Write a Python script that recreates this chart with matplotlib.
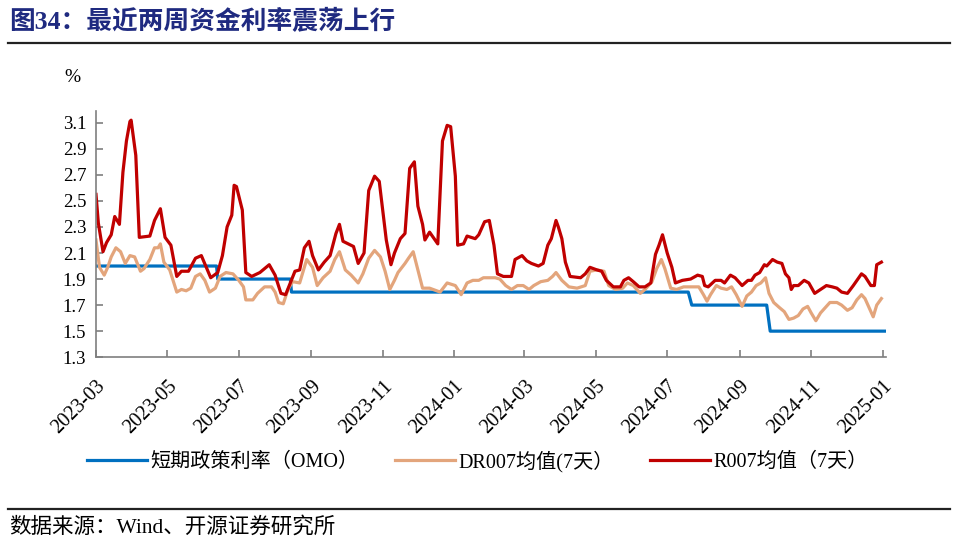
import matplotlib
matplotlib.use("Agg")
import matplotlib.pyplot as plt
import matplotlib.dates as mdates
import pandas as pd

plt.rcParams['font.family'] = ['Liberation Serif', 'Noto Sans CJK SC']

# OMO 7-day reverse repo rate (policy rate)
omo_dates = ['2023-03-01', '2023-06-12', '2023-06-13', '2023-08-14', '2023-08-15',
             '2024-07-19', '2024-07-22', '2024-09-24', '2024-09-27', '2025-01-04']
omo_vals = [2.0, 2.0, 1.9, 1.9, 1.8, 1.8, 1.7, 1.7, 1.5, 1.5]

# R007, 7-day average
r_dates = ['2023-03-01', '2023-03-03', '2023-03-07', '2023-03-10', '2023-03-14', '2023-03-17',
           '2023-03-21', '2023-03-24', '2023-03-27', '2023-03-30', '2023-03-31', '2023-04-04',
           '2023-04-07', '2023-04-16', '2023-04-20', '2023-04-25', '2023-04-29', '2023-05-04',
           '2023-05-09', '2023-05-13', '2023-05-19', '2023-05-25', '2023-05-30', '2023-06-07',
           '2023-06-13', '2023-06-17', '2023-06-21', '2023-06-25', '2023-06-27', '2023-06-29',
           '2023-07-04', '2023-07-07', '2023-07-12', '2023-07-19', '2023-07-27', '2023-08-01',
           '2023-08-06', '2023-08-10', '2023-08-14', '2023-08-18', '2023-08-22', '2023-08-26',
           '2023-08-30', '2023-09-02', '2023-09-07', '2023-09-12', '2023-09-17', '2023-09-22',
           '2023-09-25', '2023-09-28', '2023-10-07', '2023-10-11', '2023-10-16', '2023-10-20',
           '2023-10-25', '2023-10-29', '2023-11-04', '2023-11-08', '2023-11-11', '2023-11-16',
           '2023-11-20', '2023-11-24', '2023-11-28', '2023-12-01', '2023-12-05', '2023-12-07',
           '2023-12-11', '2023-12-18', '2023-12-22', '2023-12-26', '2023-12-29', '2024-01-02',
           '2024-01-04', '2024-01-09', '2024-01-12', '2024-01-19', '2024-01-22', '2024-01-27',
           '2024-01-31', '2024-02-04', '2024-02-07', '2024-02-12', '2024-02-19', '2024-02-22',
           '2024-02-28', '2024-03-03', '2024-03-07', '2024-03-13', '2024-03-17', '2024-03-21',
           '2024-03-24', '2024-03-28', '2024-03-30', '2024-04-02', '2024-04-05', '2024-04-09',
           '2024-04-18', '2024-04-22', '2024-04-26', '2024-05-02', '2024-05-06', '2024-05-10',
           '2024-05-16', '2024-05-22', '2024-05-25', '2024-05-29', '2024-06-02', '2024-06-07',
           '2024-06-12', '2024-06-17', '2024-06-21', '2024-06-24', '2024-06-27', '2024-06-29',
           '2024-07-01', '2024-07-05', '2024-07-08', '2024-07-14', '2024-07-21', '2024-07-27',
           '2024-07-31', '2024-08-02', '2024-08-05', '2024-08-11', '2024-08-16', '2024-08-19',
           '2024-08-24', '2024-08-28', '2024-09-03', '2024-09-08', '2024-09-11', '2024-09-14',
           '2024-09-18', '2024-09-22', '2024-09-24', '2024-09-29', '2024-10-03', '2024-10-07',
           '2024-10-10', '2024-10-13', '2024-10-15', '2024-10-17', '2024-10-21', '2024-10-26',
           '2024-10-30', '2024-11-04', '2024-11-09', '2024-11-14', '2024-11-19', '2024-11-23',
           '2024-11-27', '2024-12-02', '2024-12-07', '2024-12-14', '2024-12-17', '2024-12-22',
           '2024-12-25', '2024-12-27', '2024-12-31']
r_vals = [2.55, 2.33, 2.11, 2.18, 2.24, 2.38,
          2.32, 2.72, 2.96, 3.11, 3.12, 2.85,
          2.22, 2.23, 2.35, 2.44, 2.22, 2.16,
          1.92, 1.96, 1.96, 2.06, 2.08, 1.91,
          1.95, 2.08, 2.30, 2.39, 2.62, 2.61,
          2.43, 1.95, 1.92, 1.95, 2.01, 1.93,
          1.79, 1.78, 1.87, 1.96, 1.97, 2.14,
          2.19, 2.08, 1.97, 2.03, 2.08, 2.25,
          2.32, 2.19, 2.15, 2.02, 2.10, 2.58,
          2.69, 2.65, 2.20, 2.01, 2.10, 2.21,
          2.25, 2.75, 2.80, 2.46, 2.32, 2.20,
          2.26, 2.17, 2.96, 3.08, 3.07, 2.69,
          2.16, 2.17, 2.23, 2.21, 2.24, 2.34,
          2.35, 2.16, 1.94, 1.92, 1.92, 2.05,
          2.08, 2.04, 2.02, 2.00, 2.02, 2.16,
          2.21, 2.35, 2.30, 2.21, 2.03, 1.92,
          1.91, 1.94, 1.99, 1.97, 1.96, 1.89,
          1.84, 1.84, 1.89, 1.91, 1.88, 1.84,
          1.84, 1.87, 2.09, 2.16, 2.24, 2.17,
          2.10, 1.99, 1.87, 1.89, 1.90, 1.93,
          1.92, 1.85, 1.84, 1.89, 1.89, 1.87,
          1.93, 1.91, 1.85, 1.89, 1.89, 1.93,
          1.95, 2.01, 2.00, 2.05, 2.03, 2.02,
          1.94, 1.91, 1.82, 1.85, 1.85, 1.89,
          1.87, 1.79, 1.82, 1.85, 1.84, 1.83,
          1.80, 1.79, 1.85, 1.94, 1.92, 1.85,
          1.85, 2.01, 2.03]

# DR007, 7-day average
dr_dates = ['2023-03-01', '2023-03-04', '2023-03-08', '2023-03-11', '2023-03-14', '2023-03-18',
            '2023-03-22', '2023-03-26', '2023-03-30', '2023-04-03', '2023-04-08', '2023-04-11',
            '2023-04-16', '2023-04-20', '2023-04-23', '2023-04-25', '2023-04-28', '2023-05-03',
            '2023-05-09', '2023-05-13', '2023-05-17', '2023-05-21', '2023-05-25', '2023-05-29',
            '2023-06-02', '2023-06-06', '2023-06-11', '2023-06-15', '2023-06-20', '2023-06-26',
            '2023-07-01', '2023-07-05', '2023-07-07', '2023-07-13', '2023-07-17', '2023-07-23',
            '2023-07-29', '2023-08-01', '2023-08-04', '2023-08-08', '2023-08-12', '2023-08-16',
            '2023-08-22', '2023-08-28', '2023-09-02', '2023-09-06', '2023-09-11', '2023-09-17',
            '2023-09-21', '2023-09-25', '2023-09-30', '2023-10-05', '2023-10-11', '2023-10-15',
            '2023-10-20', '2023-10-25', '2023-10-30', '2023-11-03', '2023-11-07', '2023-11-11',
            '2023-11-14', '2023-11-20', '2023-11-23', '2023-11-27', '2023-12-01', '2023-12-05',
            '2023-12-11', '2023-12-20', '2023-12-26', '2024-01-02', '2024-01-07', '2024-01-12',
            '2024-01-17', '2024-01-22', '2024-01-26', '2024-02-01', '2024-02-05', '2024-02-09',
            '2024-02-14', '2024-02-19', '2024-02-24', '2024-02-29', '2024-03-05', '2024-03-09',
            '2024-03-15', '2024-03-21', '2024-03-25', '2024-03-28', '2024-04-02', '2024-04-08',
            '2024-04-15', '2024-04-22', '2024-04-26', '2024-05-02', '2024-05-08', '2024-05-12',
            '2024-05-18', '2024-05-24', '2024-05-28', '2024-06-02', '2024-06-08', '2024-06-12',
            '2024-06-18', '2024-06-22', '2024-06-26', '2024-06-29', '2024-07-04', '2024-07-09',
            '2024-07-15', '2024-07-21', '2024-07-28', '2024-08-01', '2024-08-04', '2024-08-07',
            '2024-08-12', '2024-08-16', '2024-08-21', '2024-08-25', '2024-08-29', '2024-09-03',
            '2024-09-07', '2024-09-11', '2024-09-15', '2024-09-19', '2024-09-23', '2024-09-26',
            '2024-09-30', '2024-10-05', '2024-10-09', '2024-10-13', '2024-10-17', '2024-10-21',
            '2024-10-25', '2024-10-29', '2024-11-01', '2024-11-05', '2024-11-09', '2024-11-14',
            '2024-11-17', '2024-11-23', '2024-11-27', '2024-12-02', '2024-12-06', '2024-12-10',
            '2024-12-14', '2024-12-17', '2024-12-22', '2024-12-24', '2024-12-27', '2024-12-31']
dr_vals = [2.20, 1.99, 1.93, 1.99, 2.07, 2.14,
           2.11, 2.02, 2.08, 2.07, 1.96, 1.98,
           2.05, 2.14, 2.14, 2.17, 2.03, 1.97,
           1.80, 1.82, 1.81, 1.83, 1.92, 1.94,
           1.89, 1.80, 1.83, 1.92, 1.95, 1.94,
           1.89, 1.84, 1.74, 1.74, 1.79, 1.84,
           1.84, 1.80, 1.72, 1.71, 1.82, 1.88,
           1.87, 2.05, 1.99, 1.85, 1.91, 1.96,
           2.05, 2.11, 1.97, 1.93, 1.87, 1.94,
           2.06, 2.12, 2.07, 1.96, 1.82, 1.89,
           1.95, 2.02, 2.06, 2.11, 1.97, 1.83,
           1.83, 1.80, 1.87, 1.85, 1.78, 1.87,
           1.89, 1.89, 1.91, 1.91, 1.91, 1.90,
           1.85, 1.82, 1.85, 1.85, 1.82, 1.85,
           1.88, 1.89, 1.92, 1.95, 1.89, 1.84,
           1.83, 1.85, 1.96, 1.97, 1.96, 1.85,
           1.82, 1.83, 1.87, 1.85, 1.79, 1.82,
           1.88, 1.98, 2.05, 1.98, 1.83, 1.82,
           1.84, 1.84, 1.84, 1.78, 1.73, 1.78,
           1.85, 1.83, 1.82, 1.84, 1.78, 1.69,
           1.77, 1.80, 1.85, 1.87, 1.91, 1.79,
           1.72, 1.68, 1.65, 1.59, 1.60, 1.62,
           1.67, 1.69, 1.64, 1.58, 1.64, 1.69,
           1.72, 1.72, 1.70, 1.66, 1.68, 1.74,
           1.78, 1.75, 1.65, 1.61, 1.70, 1.75]

tick_months = ['2023-03', '2023-05', '2023-07', '2023-09', '2023-11', '2024-01',
               '2024-03', '2024-05', '2024-07', '2024-09', '2024-11', '2025-01']
y_ticks = [1.3, 1.5, 1.7, 1.9, 2.1, 2.3, 2.5, 2.7, 2.9, 3.1]

fig = plt.figure(figsize=(9.6, 5.47), dpi=100)
ax = fig.add_axes([0.1, 0.347, 0.823, 0.45])

ax.plot(pd.to_datetime(omo_dates), omo_vals, color='#0070C0', lw=2.3, label='短期政策利率（OMO）')
ax.plot(pd.to_datetime(dr_dates), dr_vals, color='#E3A57C', lw=2.3, label='DR007均值(7天）')
ax.plot(pd.to_datetime(r_dates), r_vals, color='#C00000', lw=2.3, label='R007均值（7天）')

ax.set_xlim(pd.Timestamp('2023-03-01'), pd.Timestamp('2025-01-04'))
ax.set_ylim(1.3, 3.19)
ax.set_yticks(y_ticks)
ax.set_yticklabels([f'{v:.1f}' for v in y_ticks])
ax.set_xticks(pd.to_datetime(tick_months))
ax.xaxis.set_major_formatter(mdates.DateFormatter('%Y-%m'))

for s in ['top', 'right']:
    ax.spines[s].set_visible(False)
for s in ['left', 'bottom']:
    ax.spines[s].set_color('#7F7F7F')
    ax.spines[s].set_linewidth(1.2)
ax.tick_params(axis='both', direction='in', length=5, color='#7F7F7F', width=1.2)
ax.tick_params(axis='y', labelsize=13.5, pad=7)
ax.tick_params(axis='x', labelsize=14.5, pad=14)
for lbl in ax.get_xticklabels():
    lbl.set_rotation(45)
    lbl.set_ha('right')
    lbl.set_va('top')
    lbl.set_rotation_mode('anchor')

fig.text(0.067, 0.858, '%', fontsize=14, ha='left', va='center')

ax.legend(loc='center', bbox_to_anchor=(0.497, 0.157), bbox_transform=fig.transFigure,
          ncol=3, frameon=False, fontsize=14.5, handlelength=3.0, columnspacing=1.8,
          handletextpad=0.15)

fig.text(0.009, 0.96, '图34：最近两周资金利率震荡上行', fontsize=18.5, fontweight='bold',
         color='#1F2A80', ha='left', va='center')
fig.add_artist(plt.Line2D([0.008, 0.99], [0.921, 0.921], color='#222222', lw=1.6))
fig.add_artist(plt.Line2D([0.008, 0.99], [0.069, 0.069], color='#222222', lw=1.6))
fig.text(0.009, 0.036, '数据来源：Wind、开源证券研究所', fontsize=15.5, ha='left', va='center')

fig.savefig('out.png', dpi=100)
